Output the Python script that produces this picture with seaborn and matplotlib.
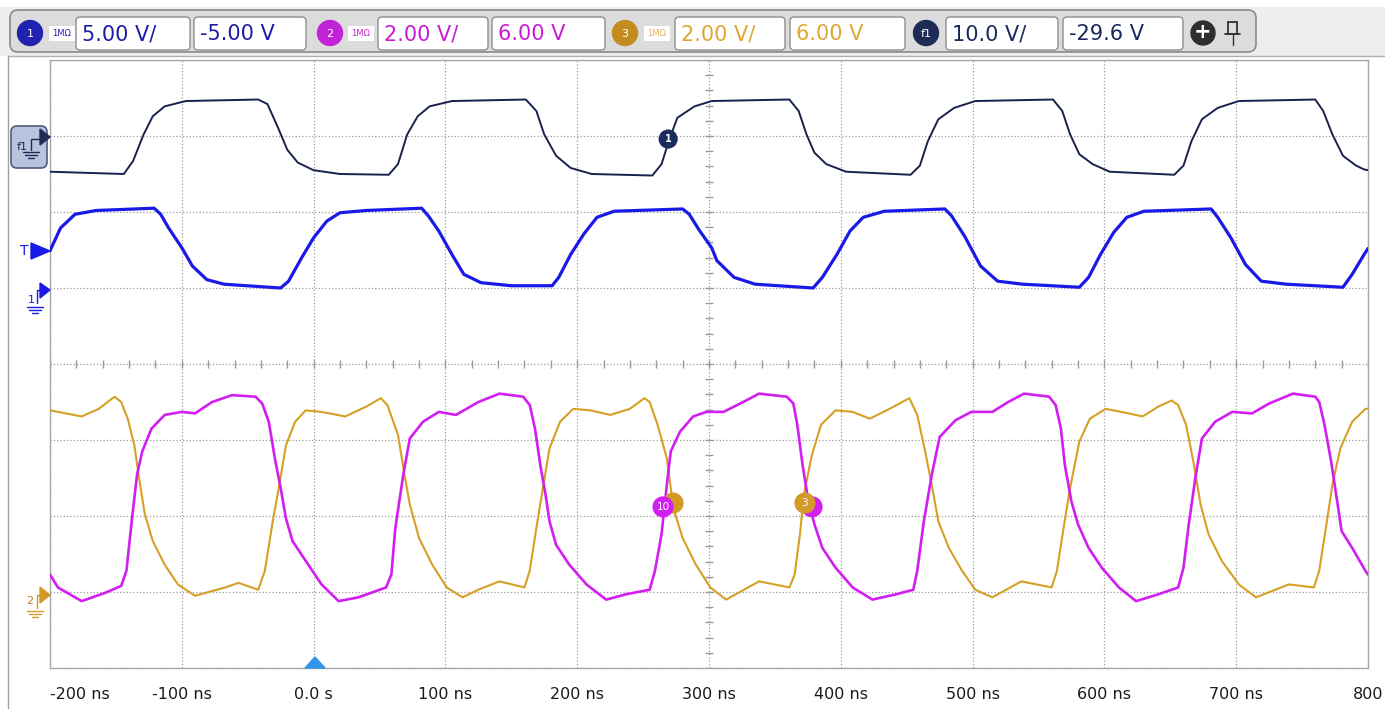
import numpy as np
import pandas as pd
import matplotlib.pyplot as plt
from matplotlib.patches import FancyBboxPatch, Circle, Polygon, Rectangle
import seaborn as sns

sns.set_style("white")
plt.rcParams['font.family'] = ['DejaVu Sans']

# channel settings as shown in the toolbar (V/div, offset V)
ch_scale = {'1': 5.0, '2': 2.0, '3': 2.0, 'f1': 10.0}
ch_offset = {'1': -5.0, '2': 6.0, '3': 6.0, 'f1': -29.6}
ch_color = {'1': '#1a1ae8', '2': '#d21ef0', '3': '#d6a024', 'f1': '#18224e'}

time_ticks = [-200, -100, 0, 100, 200, 300, 400, 500, 600, 700, 800]
time_labels = ['-200 ns', '-100 ns', '0.0 s', '100 ns', '200 ns', '300 ns',
               '400 ns', '500 ns', '600 ns', '700 ns', '800']

# f1 (math) trace, time in ns, value in V
f1_t = [-200, -144, -137, -129, -122, -113, -97, -42, -35, -27, -20, -12, 0, 20, 57,
        64, 71, 79, 88, 105, 161, 169, 175, 184, 195, 211, 257, 264, 270, 276, 289,
        302, 361, 368, 374, 380, 389, 404, 453, 460, 466, 474, 486, 502, 561, 568,
        574, 581, 591, 604, 653, 660, 666, 674, 686, 702, 760, 766, 773, 781, 791,
        797, 800]
f1_v = [-4.3, -4.6, -2.9, 0.6, 3.0, 4.3, 5.0, 5.2, 4.6, 1.5, -1.4, -3.1, -4.1, -4.6, -4.7,
        -3.3, 0.6, 3.0, 4.3, 5.0, 5.2, 3.7, 0.6, -2.2, -3.8, -4.6, -4.8, -3.3, 0.0, 2.8, 4.3,
        5.0, 5.2, 3.7, 0.6, -1.8, -3.3, -4.3, -4.7, -3.5, -0.3, 2.6, 4.1, 5.0, 5.2, 3.7,
        0.6, -2.0, -3.3, -4.3, -4.7, -3.5, -0.3, 2.6, 4.1, 5.0, 5.2, 3.7, 0.6, -2.2, -3.5,
        -4.0, -4.1]

# channel 1
ch1_t = [-200, -192, -181, -165, -121, -116, -110, -100, -92, -81, -68, -25, -19, -9, 0,
         10, 20, 40, 82, 87, 95, 105, 114, 127, 150, 181, 186, 195, 205, 215, 228, 280,
         285, 293, 302, 306, 319, 335, 379, 386, 397, 407, 417, 433, 479, 484, 494, 506,
         519, 538, 581, 588, 597, 607, 617, 630, 681, 686, 696, 707, 719, 738, 781, 788,
         797, 800]
ch1_v = [2.45, 3.95, 4.85, 5.1, 5.25, 4.85, 3.95, 2.65, 1.45, 0.55, 0.25, 0.0, 0.45, 2.0, 3.3,
         4.4, 4.95, 5.1, 5.25, 4.75, 3.75, 2.2, 0.9, 0.35, 0.15, 0.15, 0.7, 2.2, 3.55, 4.65, 5.05, 5.2,
         4.85, 3.75, 2.65, 1.8, 0.7, 0.25, 0.0, 0.7, 2.2, 3.75, 4.65, 5.05, 5.2, 4.75, 3.4, 1.45,
         0.45, 0.25, 0.05, 0.7, 2.2, 3.65, 4.65, 5.05, 5.2, 4.65, 3.3, 1.55, 0.45, 0.25, 0.05, 0.9,
         2.2, 2.6]

# channel 2
ch2_t = [-200, -194, -176, -158, -146, -142, -138, -134, -130, -123, -113, -100, -90, -77, -62,
         -44, -39, -34, -29, -25, -21, -16, -6, 6, 19, 34, 55, 59, 62, 68, 73, 83, 95, 108,
         125, 141, 159, 164, 168, 172, 176, 179, 184, 194, 207, 222, 237, 255, 259, 264, 268,
         271, 278, 288, 298, 311, 326, 338, 359, 364, 367, 371, 375, 380, 386, 396, 409, 424,
         442, 455, 458, 463, 469, 475, 487, 499, 515, 527, 539, 558, 563, 567, 570, 575, 580,
         588, 598, 611, 624, 641, 656, 660, 664, 669, 674, 684, 697, 712, 725, 743, 760, 763,
         767, 772, 777, 780, 788, 798, 800]
ch2_v = [0.46, 0.12, -0.24, -0.02, 0.16, 0.56, 1.86, 3.08, 3.7, 4.3, 4.66, 4.74, 4.7, 5.0, 5.18,
         5.14, 4.96, 4.48, 3.44, 2.74, 1.94, 1.34, 0.82, 0.2, -0.24, -0.14, 0.12, 0.46, 1.68, 3.08,
         4.04, 4.48, 4.74, 4.66, 5.0, 5.22, 5.14, 4.92, 4.3, 3.34, 2.56, 1.86, 1.24, 0.72, 0.2,
         -0.2, -0.06, 0.06, 0.56, 1.52, 2.82, 3.7, 4.22, 4.62, 4.74, 4.74, 5.0, 5.22, 5.14, 4.96,
         4.4, 3.34, 2.48, 1.78, 1.16, 0.64, 0.12, -0.2, -0.06, 0.06, 0.56, 1.86, 3.08, 4.08,
         4.52, 4.74, 4.74, 5.0, 5.22, 5.14, 4.92, 4.3, 3.34, 2.38, 1.78, 1.16, 0.64, 0.12,
         -0.24, -0.06, 0.12, 0.64, 1.78, 3.0, 4.04, 4.48, 4.74, 4.7, 4.96, 5.22, 5.14, 5.0,
         4.4, 3.44, 2.3, 1.6, 1.16, 0.56, 0.46]

# channel 3
ch3_t = [-200, -176, -163, -151, -146, -141, -136, -132, -128, -122, -113, -103, -90, -67, -57,
         -42, -37, -31, -26, -21, -14, -6, 6, 24, 40, 51, 56, 64, 69, 73, 80, 90, 101, 113,
         125, 141, 160, 164, 169, 174, 179, 187, 197, 210, 225, 240, 251, 255, 261, 268, 273,
         280, 290, 301, 313, 338, 361, 365, 369, 372, 378, 385, 396, 409, 422, 437, 452, 458,
         464, 469, 474, 482, 492, 502, 515, 537, 560, 564, 569, 574, 581, 589, 601, 613, 629,
         641, 651, 656, 662, 668, 673, 679, 689, 702, 715, 740, 759, 763, 768, 773, 779, 788,
         798, 800]
ch3_v = [4.78, 4.62, 4.82, 5.14, 5.0, 4.56, 3.86, 2.9, 2.04, 1.34, 0.72, 0.2, -0.1, 0.12, 0.24,
         0.06, 0.56, 1.86, 2.82, 3.86, 4.48, 4.78, 4.74, 4.62, 4.88, 5.1, 4.92, 4.14, 3.08, 2.3,
         1.42, 0.72, 0.12, -0.14, 0.06, 0.28, 0.12, 0.56, 1.68, 2.74, 3.78, 4.48, 4.82, 4.78,
         4.66, 4.82, 5.1, 5.0, 4.4, 3.52, 2.2, 1.42, 0.72, 0.12, -0.2, 0.28, 0.12, 0.46, 1.52,
         2.56, 3.6, 4.4, 4.78, 4.74, 4.56, 4.82, 5.1, 4.66, 3.7, 2.82, 1.86, 1.16, 0.56, 0.06,
         -0.14, 0.28, 0.12, 0.56, 1.68, 2.74, 3.96, 4.56, 4.82, 4.74, 4.62, 4.88, 5.04, 4.92,
         4.4, 3.34, 2.3, 1.52, 0.82, 0.2, -0.14, 0.2, 0.12, 0.56, 1.68, 2.82, 3.78, 4.48,
         4.82, 4.82]


def to_div(values, ch):
    return (np.array(values) - ch_offset[ch]) / ch_scale[ch]


W, H = 1385, 709
fig = plt.figure(figsize=(W / 100, H / 100), dpi=100)
fig.patch.set_facecolor('white')

ax = fig.add_axes([50 / W, (H - 668) / H, 1318 / W, 608 / H])
traces = [('3', ch3_t, ch3_v, 1.5), ('2', ch2_t, ch2_v, 1.9),
          ('f1', f1_t, f1_v, 1.4), ('1', ch1_t, ch1_v, 2.3)]
for ch, t, v, lw in traces:
    df = pd.DataFrame({'t': t, 'div': to_div(v, ch)})
    sns.lineplot(data=df, x='t', y='div', ax=ax, color=ch_color[ch], linewidth=lw,
                 estimator=None, sort=False, zorder=3)

ax.set_xlim(-200, 800)
ax.set_ylim(-4, 4)
ax.set_xticks(time_ticks)
ax.set_xticklabels(time_labels)
ax.get_xticklabels()[0].set_horizontalalignment('left')
ax.set_yticks(range(-4, 5))
ax.set_yticklabels([])
ax.set_xlabel('')
ax.set_ylabel('')
ax.tick_params(axis='both', length=0)
ax.tick_params(axis='x', pad=14, labelsize=11.5, labelcolor='#1a1a1a')
ax.grid(True, linestyle=':', color='#9c9c9c', linewidth=0.9)
for s in ax.spines.values():
    s.set_color('#a8a8a8')
    s.set_linewidth(1.0)

# minor ticks on the centre cross
minor_x = np.arange(-200, 801, 20)
ax.plot(minor_x, np.zeros_like(minor_x), ls='none', marker='|', ms=6, color='#9a9a9a', mew=1)
minor_y = np.arange(-4, 4.01, 0.2)
ax.plot(np.full_like(minor_y, 300), minor_y, ls='none', marker='_', ms=6, color='#9a9a9a', mew=1)

# trace reference markers
ax.scatter([269], [2.96], s=190, color='#1b2b5c', zorder=6, edgecolors='none')
ax.text(269, 2.96, '1', color='white', fontsize=7, ha='center', va='center', zorder=7, weight='bold')
ax.scatter([272.7], [-1.83], s=230, color='#d49a28', zorder=6, edgecolors='none')
ax.scatter([265.1], [-1.88], s=230, color='#d21ef0', zorder=6, edgecolors='none')
ax.text(265.1, -1.88, '10', color='white', fontsize=7.5, ha='center', va='center', zorder=7)
ax.scatter([378.2], [-1.88], s=230, color='#d21ef0', zorder=6, edgecolors='none')
ax.scatter([372.8], [-1.83], s=230, color='#d49a28', zorder=6, edgecolors='none')
ax.text(372.8, -1.83, '3', color='white', fontsize=7.5, ha='center', va='center', zorder=7)

# overlay in pixel coordinates for the scope UI
ui = fig.add_axes([0, 0, 1, 1], zorder=10)
ui.set_xlim(0, W)
ui.set_ylim(H, 0)
ui.axis('off')
ui.patch.set_alpha(0)

ui.add_patch(Rectangle((0, 7), W, 49, color='#eeeeee', lw=0))
ui.plot([8, W], [56, 56], color='#b0b0b0', lw=1)
ui.plot([8, 8], [56, H], color='#a0a0a0', lw=1)
ui.add_patch(FancyBboxPatch((10, 10), 1246, 42, boxstyle='round,pad=0,rounding_size=8',
                            fc='#dcdcdc', ec='#8a8a8a', lw=1.2))

badges = [(30, '1', '#2222b0'), (330, '2', '#c323d6'), (625, '3', '#c48c20'), (926, 'f1', '#1d2b56')]
for x, lab, c in badges:
    ui.add_patch(Circle((x, 33), 12.5, color=c))
    ui.text(x, 34, lab, color='white', fontsize=8, ha='center', va='center')

ohm = [(62, '#1c1ca8'), (361, '#c81ed2'), (657, '#e4b04a')]
for x, c in ohm:
    ui.add_patch(Rectangle((x - 13, 26), 26, 15, color='white', lw=0))
    ui.text(x, 34, '1M\u03a9', color=c, fontsize=6, ha='center', va='center')

boxes = [(76, 190, '5.00 V/', '#1c1ca8'), (194, 306, '-5.00 V', '#1c1ca8'),
         (378, 488, '2.00 V/', '#c81ed2'), (492, 605, '6.00 V', '#c81ed2'),
         (675, 785, '2.00 V/', '#e0a632'), (790, 905, '6.00 V', '#e0a632'),
         (946, 1058, '10.0 V/', '#1a2a5a'), (1063, 1183, '-29.6 V', '#1a2a5a')]
for x0, x1, txt, c in boxes:
    ui.add_patch(FancyBboxPatch((x0, 17), x1 - x0, 33, boxstyle='round,pad=0,rounding_size=4',
                                fc='white', ec='#8e8e8e', lw=1))
    ui.text(x0 + 6, 34.5, txt, color=c, fontsize=15, ha='left', va='center')

ui.add_patch(Circle((1203, 33), 12, color='#2e2e2e'))
ui.text(1203, 32.5, '+', color='white', fontsize=15, ha='center', va='center', weight='bold')
ui.add_patch(Rectangle((1228, 22), 9, 12, fc='none', ec='#333333', lw=1.3))
ui.plot([1232.5, 1232.5], [34, 45], color='#333333', lw=1)
ui.plot([1225, 1240], [34, 34], color='#333333', lw=1.3)

# left side markers
ui.add_patch(FancyBboxPatch((11, 126), 36, 42, boxstyle='round,pad=0,rounding_size=6',
                            fc='#b8c4dd', ec='#4f5b78', lw=1.2))
ui.text(22, 147, 'f1', color='#1d2b56', fontsize=8, ha='center', va='center')
ui.add_patch(Polygon([(40, 129), (40, 145), (50, 137)], color='#1d2b56'))
ui.plot([31, 31, 40], [150, 139, 139], color='#1d2b56', lw=1)
for i, w in enumerate([8, 6, 3]):
    ui.plot([31 - w, 31 + w], [152 + 3 * i, 152 + 3 * i], color='#1d2b56', lw=1)

ui.text(24, 251, 'T', color='#1a1ae8', fontsize=10, ha='center', va='center')
ui.add_patch(Polygon([(31, 243), (31, 259), (50, 251)], color='#1a1ae8'))

ui.add_patch(Polygon([(40, 283), (40, 298), (50, 290)], color='#1a1ae8'))
ui.plot([37, 37, 40], [303, 290, 290], color='#1a1ae8', lw=1)
ui.text(31, 300, '1', color='#1a1ae8', fontsize=8, ha='center', va='center')
for i, w in enumerate([8, 6, 3]):
    ui.plot([35 - w, 35 + w], [307 + 3 * i, 307 + 3 * i], color='#1a1ae8', lw=1)

ui.add_patch(Polygon([(40, 587), (40, 603), (50, 595)], color='#d49a28'))
ui.plot([37, 37, 40], [608, 595, 595], color='#d49a28', lw=1)
ui.text(30, 601, '2', color='#c8782a', fontsize=8, ha='center', va='center')
for i, w in enumerate([8, 6, 3]):
    ui.plot([35 - w, 35 + w], [611 + 3 * i, 611 + 3 * i], color='#d49a28', lw=1)

# trigger position marker
ui.add_patch(Polygon([(305, 668), (325, 668), (315, 657)], color='#3196ea'))

fig.savefig('out.png', dpi=100)
